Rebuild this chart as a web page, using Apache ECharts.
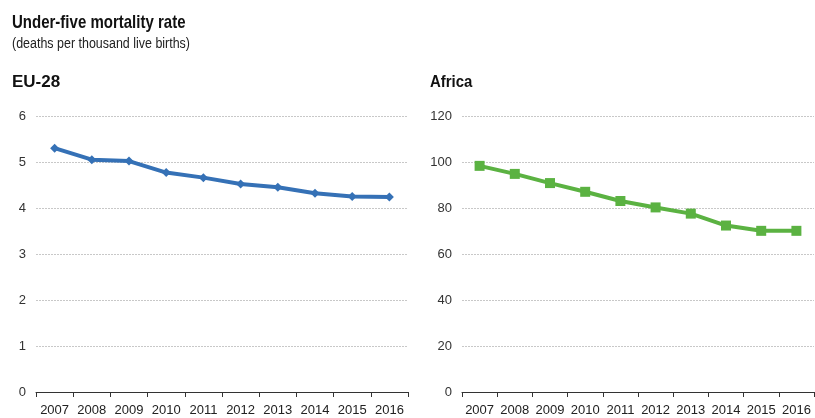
<!DOCTYPE html>
<html>
<head>
<meta charset="utf-8">
<script src="https://cdn.jsdelivr.net/npm/echarts@6/dist/echarts.min.js"></script>
<style>
  html, body { margin: 0; padding: 0; background: #fff; }
  #chart { width: 815px; height: 418px; }
</style>
</head>
<body>
<div id="chart"></div>
<script>
// Under-five mortality rate, deaths per thousand live births
const years = ['2007', '2008', '2009', '2010', '2011', '2012', '2013', '2014', '2015', '2016'];
const euValues = [5.3, 5.05, 5.02, 4.77, 4.66, 4.52, 4.45, 4.32, 4.25, 4.24];
const africaValues = [98.5, 95.0, 91.0, 87.2, 83.2, 80.4, 77.7, 72.5, 70.2, 70.2];
const euTicks = [0, 1, 2, 3, 4, 5, 6];
const africaTicks = [0, 20, 40, 60, 80, 100, 120];

const FONT = "'Liberation Sans', Arial, sans-serif";

function xAxisFor(gridIndex) {
  return {
    type: 'category',
    gridIndex: gridIndex,
    data: years,
    boundaryGap: true,
    axisLine: { show: true, lineStyle: { color: '#333', width: 1 } },
    axisTick: { show: true, length: 5, lineStyle: { color: '#333' } },
    axisLabel: { color: '#222', fontSize: 13, fontFamily: FONT, margin: 12, interval: 0 },
    splitLine: { show: false }
  };
}

function yAxisFor(gridIndex, ticks) {
  return {
    type: 'value',
    gridIndex: gridIndex,
    min: ticks[0],
    max: ticks[ticks.length - 1],
    interval: ticks[1] - ticks[0],
    axisLine: { show: false },
    axisTick: { show: false },
    axisLabel: { color: '#333', fontSize: 13, fontFamily: FONT, margin: 10 },
    splitLine: { show: true, lineStyle: { color: '#c8c8c8', type: [2, 1], width: 1 } }
  };
}

// condensed heading text: normal glyph height, narrower set width
function heading(text, x, y, font, scaleX, fill) {
  return {
    type: 'text',
    x: x, y: y,
    scaleX: scaleX,
    originX: 0,
    style: { text: text, font: font, fill: fill, textVerticalAlign: 'top', textAlign: 'left' }
  };
}

const chart = echarts.init(document.getElementById('chart'), null, { renderer: 'canvas' });
chart.setOption({
  backgroundColor: '#ffffff',
  animation: false,
  graphic: [
    heading('Under-five mortality rate', 12, 13, "bold 19px 'Liberation Sans', Arial, sans-serif", 0.79, '#111'),
    heading('(deaths per thousand live births)', 12, 37, "14px 'Liberation Sans', Arial, sans-serif", 0.89, '#222'),
    heading('EU-28', 12, 74, "bold 17px 'Liberation Sans', Arial, sans-serif", 1, '#111'),
    heading('Africa', 430, 74, "bold 17px 'Liberation Sans', Arial, sans-serif", 0.88, '#111')
  ],
  grid: [
    { left: 36, right: 407, top: 116, bottom: 26 },
    { left: 462, right: 1, top: 116.5, bottom: 26 }
  ],
  xAxis: [xAxisFor(0), xAxisFor(1)],
  yAxis: [yAxisFor(0, euTicks), yAxisFor(1, africaTicks)],
  series: [
    {
      name: 'EU-28',
      type: 'line',
      xAxisIndex: 0, yAxisIndex: 0,
      data: euValues,
      symbol: 'diamond', symbolSize: 9,
      itemStyle: { color: '#3571b6' },
      lineStyle: { color: '#3571b6', width: 4 }
    },
    {
      name: 'Africa',
      type: 'line',
      xAxisIndex: 1, yAxisIndex: 1,
      data: africaValues,
      symbol: 'rect', symbolSize: 10,
      itemStyle: { color: '#5bb242' },
      lineStyle: { color: '#5bb242', width: 4 }
    }
  ]
});
</script>
</body>
</html>
